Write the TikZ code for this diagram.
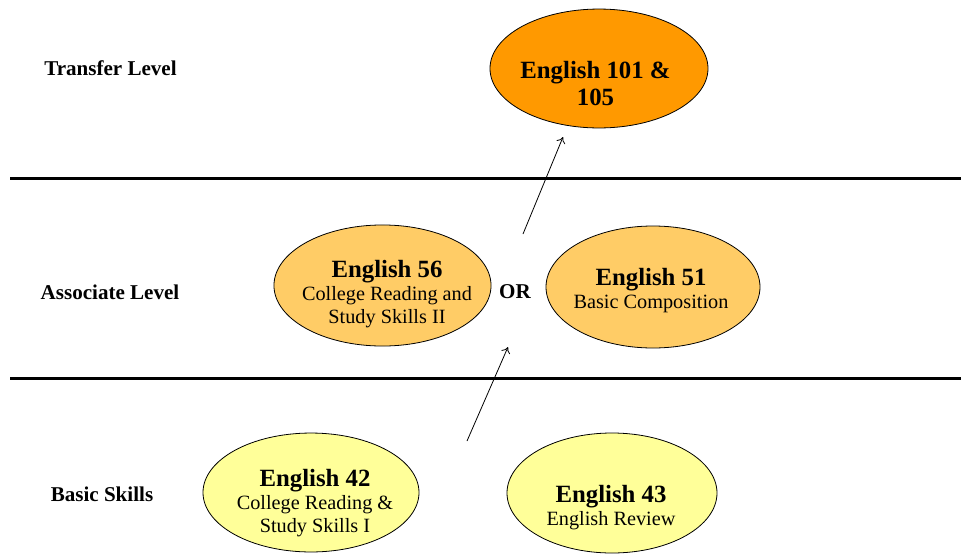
\documentclass[tikz,border=0pt]{standalone}
\usepackage{fontspec}
\setmainfont{Liberation Serif}
\usetikzlibrary{arrows.meta}

\definecolor{transfer}{HTML}{FF9900}
\definecolor{assoc}{HTML}{FFCC66}
\definecolor{basic}{HTML}{FFFF99}

\newcommand{\course}[1]{{\fontsize{18.6}{17.25}\selectfont\bfseries #1}}

\begin{document}
\begin{tikzpicture}[x=0.75pt,y=-0.75pt]
    \tikzstyle{every node}+=[inner sep=0pt]
    \tikzstyle{lvl}=[font=\fontsize{15.8}{18}\selectfont\bfseries, anchor=base]
    \tikzstyle{txt}=[align=center, font=\fontsize{15.2}{17.25}\selectfont]
    \tikzstyle{link}=[line width=0.6pt, -{To[length=4.5pt,width=7pt]}]
    \useasboundingbox (0,0) rectangle (961,554);
    \draw [line width=2.25pt] (10,178) -- (961,178);
    \draw [line width=2.25pt] (10,378) -- (961,378);
    \node [lvl] (transfer) at (110.5,75) {Transfer Level};
    \node [lvl] (associate) at (110,299) {Associate Level};
    \node [lvl] (basic) at (102,501) {Basic Skills};
    \draw [black, fill=transfer, line width=0.6pt] (599,68.5) ellipse (81.75pt and 44.6pt);
    \node [align=center, font=\fontsize{18.6}{20.25}\selectfont\bfseries] (e101) at (595.5,83.5) {English 101 \&\\105};
    \draw [black, fill=assoc, line width=0.6pt] (382.5,285.5) ellipse (81.4pt and 45.4pt);
    \node [txt] (e56) at (387,294.5) {\course{English 56}\\College Reading and\\Study Skills II};
    \draw [black, fill=assoc, line width=0.6pt] (653,287) ellipse (80.25pt and 45.75pt);
    \node [txt] (e51) at (651,291) {\course{English 51}\\Basic Composition};
    \node [lvl] (or) at (515,298) {OR};
    \draw [black, fill=basic, line width=0.6pt] (311,492.5) ellipse (81pt and 44.6pt);
    \node [txt] (e42) at (315,503.5) {\course{English 42}\\College Reading \&\\Study Skills I};
    \draw [black, fill=basic, line width=0.6pt] (612,493) ellipse (78.75pt and 45pt);
    \node [txt] (e43) at (611,508) {\course{English 43}\\English Review};
    \coordinate (up1) at (467,441);
    \coordinate (up2) at (508,347);
    \coordinate (up3) at (523,234);
    \coordinate (up4) at (563,137);
    \draw [link] (up1) -- (up2);
    \draw [link] (up3) -- (up4);
\end{tikzpicture}
\end{document}
